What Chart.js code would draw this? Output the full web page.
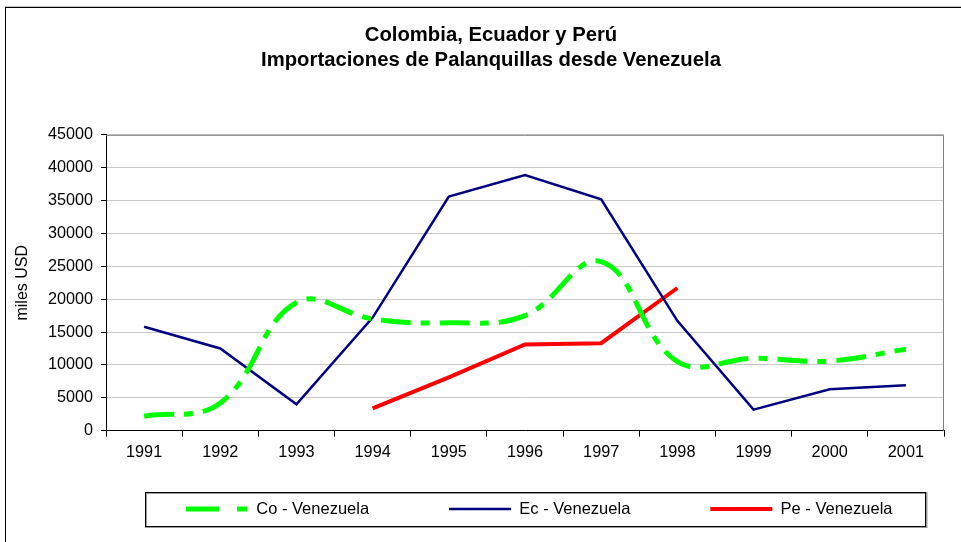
<!DOCTYPE html>
<html>
<head>
<meta charset="utf-8">
<script src="https://cdn.jsdelivr.net/npm/chart.js@4"></script>
<style>
  html, body { margin: 0; padding: 0; background: #fff; overflow: hidden; width: 961px; height: 542px; }
  #frame { position: absolute; left: 5px; top: 7px; width: 970px; height: 540px;
           border: 1px solid #000; box-shadow: 0 -1px 0 #c0c0c0; }
  canvas { display: block; }
</style>
</head>
<body>
<div id="frame"><canvas id="myChart1" width="970" height="540"></canvas></div>
<script>
// years on the category axis
const years = ['1991', '1992', '1993', '1994', '1995', '1996', '1997', '1998', '1999', '2000', '2001'];

// miles USD
const co_venezuela = [2200, 4200, 19500, 17000, 16400, 17500, 25700, 10500, 11000, 10600, 12400];
const ec_venezuela = [15800, 12500, 4000, 17200, 35600, 38900, 35200, 16700, 3200, 6300, 6900];
const pe_venezuela = [null, null, null, 3400, 8100, 13100, 13300, 21700, null, null, null];

const title_lines = ['Colombia, Ecuador y Perú', 'Importaciones de Palanquillas desde Venezuela'];
const y_title = 'miles USD';

Chart.defaults.font.family = "'Liberation Sans', Arial, sans-serif";
Chart.defaults.color = '#000';

const legendPad = 80;
const legendFont = 16.5;

// frame for the plot area, legend box, legend and title placement
const excelLook = {
    id: 'excelLook',
    afterLayout(chart) {
        const lg = chart.legend;
        const h = 110;
        lg.left = chart.chartArea.left;
        lg.right = lg.left + lg.width;
        lg.top = 501 - legendFont / 2 - legendPad;
        lg.bottom = lg.top + h;
        lg.height = h;
        // centre the title on the whole frame
        const tb = chart.titleBlock;
        tb.left = 0;
        tb.right = chart.width;
        tb.width = chart.width;
    },
    beforeDatasetsDraw(chart) {
        const {ctx, chartArea: a} = chart;
        ctx.save();
        ctx.strokeStyle = '#808080';
        ctx.lineWidth = 1;
        ctx.beginPath();
        ctx.moveTo(a.left, a.top + 0.5);
        ctx.lineTo(a.right - 0.5, a.top + 0.5);
        ctx.lineTo(a.right - 0.5, a.bottom);
        ctx.stroke();
        ctx.restore();
    },
    afterDraw(chart) {
        const {ctx} = chart;
        const lg = chart.legend;
        const x = lg.left + 39;
        const w = lg.lineWidths[0] - 6;
        const cy = lg.top + legendPad + legendFont / 2;
        ctx.save();
        ctx.strokeStyle = '#999';
        ctx.lineWidth = 2;
        ctx.strokeRect(x + 1, cy - 17 + 1, w, 34);
        ctx.strokeStyle = '#000';
        ctx.lineWidth = 1;
        ctx.strokeRect(Math.round(x) + 0.5, Math.round(cy - 17) + 0.5, Math.round(w), 34);
        ctx.restore();
    }
};

var ctx = document.getElementById('myChart1').getContext('2d');
var chart = new Chart(ctx, {
    type: 'line',
    data: {
        labels: years,
        datasets: [{
            label: 'Co - Venezuela',
            data: co_venezuela,
            borderColor: '#00ff00',
            backgroundColor: '#00ff00',
            borderWidth: 5,
            borderDash: [30, 10, 9, 10],
            tension: 0.4,
            pointRadius: 0,
            fill: false
        },
        {
            label: 'Ec - Venezuela',
            data: ec_venezuela,
            borderColor: '#000080',
            backgroundColor: '#000080',
            borderWidth: 2.5,
            tension: 0,
            pointRadius: 0,
            fill: false
        },
        {
            label: 'Pe - Venezuela',
            data: pe_venezuela,
            borderColor: '#ff0000',
            backgroundColor: '#ff0000',
            borderWidth: 4,
            tension: 0,
            pointRadius: 0,
            fill: false
        }]
    },
    options: {
        responsive: false,
        animation: false,
        devicePixelRatio: 1,
        layout: { padding: { left: 2, right: 32, top: 0, bottom: 39.8 } },
        plugins: {
            title: {
                display: true,
                text: title_lines,
                color: '#000',
                font: { size: 20.3, weight: 'bold', lineHeight: 1.25 },
                padding: { top: 14.5, bottom: 61.6 }
            },
            legend: {
                position: 'bottom',
                align: 'start',
                maxHeight: 40,
                labels: {
                    usePointStyle: true,
                    pointStyle: 'line',
                    pointStyleWidth: 62,
                    padding: legendPad,
                    color: '#000',
                    font: { size: legendFont },
                    generateLabels(chart) {
                        const items = Chart.defaults.plugins.legend.labels.generateLabels(chart);
                        items.forEach((it) => {
                            const ds = chart.data.datasets[it.datasetIndex];
                            it.lineWidth = ds.borderWidth;
                            it.strokeStyle = ds.borderColor;
                            it.lineDash = ds.borderDash ? [33, 18, 10, 30] : [];
                        });
                        return items;
                    }
                }
            },
            tooltip: { enabled: false }
        },
        scales: {
            x: {
                type: 'category',
                offset: true,
                grid: {
                    offset: true,
                    drawOnChartArea: false,
                    drawTicks: true,
                    tickLength: 6,
                    tickColor: '#000'
                },
                border: { color: '#000', width: 1 },
                ticks: { padding: 6, font: { size: 16.3 }, color: '#000', maxRotation: 0, autoSkip: false }
            },
            y: {
                min: 0,
                max: 45000,
                afterFit: (scale) => { scale.width = 98; },
                title: {
                    display: true,
                    text: y_title,
                    color: '#000',
                    font: { size: 16 },
                    padding: { top: 4.5, bottom: 0 }
                },
                grid: {
                    color: '#c8c8c8',
                    tickColor: '#000',
                    tickLength: 5
                },
                border: { color: '#000', width: 1 },
                ticks: {
                    stepSize: 5000,
                    padding: 8,
                    color: '#000',
                    font: { size: 16.2 },
                    callback: (v) => String(v)
                }
            }
        }
    },
    plugins: [excelLook]
});
</script>
</body>
</html>
